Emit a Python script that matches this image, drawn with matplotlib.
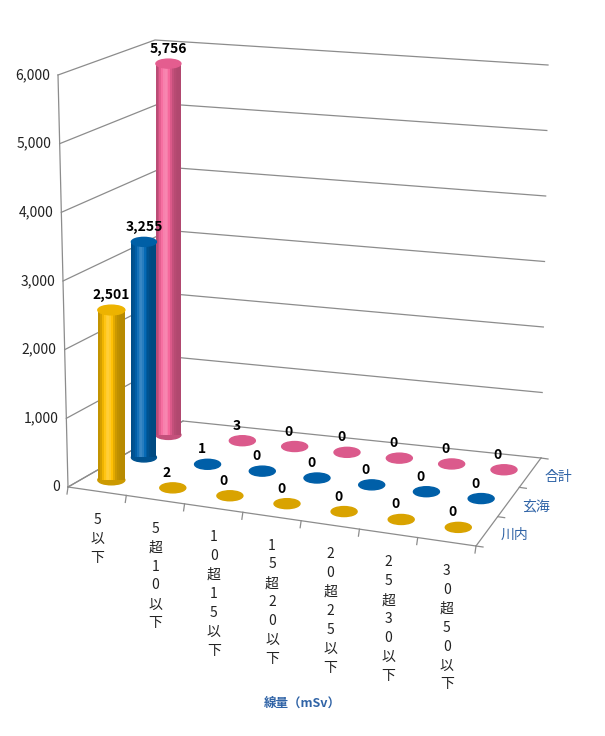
import numpy as np
import matplotlib
matplotlib.use("Agg")
import matplotlib.pyplot as plt
from matplotlib.patches import Ellipse, Polygon
import matplotlib.colors as mc

plt.rcParams['font.family'] = ['Noto Sans CJK JP', 'DejaVu Sans']

categories = ["5以下", "5超10以下", "10超15以下", "15超20以下", "20超25以下", "25超30以下", "30超50以下"]
series_names = ["川内", "玄海", "合計"]
sendai = [2501, 2, 0, 0, 0, 0, 0]
genkai = [3255, 1, 0, 0, 0, 0, 0]
total = [5756, 3, 0, 0, 0, 0, 0]
yticks = [0, 1000, 2000, 3000, 4000, 5000, 6000]
xlabel = "線量（mSv）"

series_vals = [sendai, genkai, total]
colors = ["#FFC000", "#0066B3", "#F5649A"]
disk_colors = ["#D9A300", "#005FA8", "#DB5A8C"]
widths = [27, 25, 25]
YMAX = 6000.0

F0 = np.array([68, 487.]); F1 = np.array([476, 546.])
B0 = np.array([183, 421.]); B1 = np.array([541, 458.])
S = {"FL": 412, "FR": 424, "BL": 381, "BR": 393}
D = {"FL": -10, "FR": 25, "BL": -28, "BR": 7}

def bil(a, b, c, d, u, v):
    return (1-u)*(1-v)*a + u*(1-v)*b + (1-u)*v*c + u*v*d

def proj(u, v, h):
    p = bil(F0, F1, B0, B1, u, v)
    s = bil(S["FL"], S["FR"], S["BL"], S["BR"], u, v)
    dx = bil(D["FL"], D["FR"], D["BL"], D["BR"], u, v)
    f = h / YMAX
    return np.array([p[0] + dx*f, p[1] - s*f])

def shade(c, f):
    r = np.array(mc.to_rgb(c))
    if f >= 1:
        return tuple(r + (1-r)*min(f-1, 1))
    return tuple(r*f)

fig = plt.figure(figsize=(6.05, 7.36), dpi=100)
ax = fig.add_axes([0, 0, 1, 1])
ax.set_xlim(0, 605); ax.set_ylim(736, 0); ax.axis('off')

gc = "#8c8c8c"
for t in yticks:
    a = proj(0, 0, t); b = proj(0, 1, t); c = proj(1, 1, t)
    ax.plot([a[0], b[0], c[0]], [a[1], b[1], c[1]], color=gc, lw=0.9)
    ax.text(a[0]-8, a[1], f"{t:,}", ha='right', va='center', fontsize=10, color="#222")
a = proj(0, 0, 0); b = proj(0, 0, 6000)
ax.plot([a[0], b[0]], [a[1], b[1]], color=gc, lw=0.9)
for (u1, v1, u2, v2) in [(0, 0, 1, 0), (1, 0, 1, 1), (0, 1, 0, 0)]:
    p, q = proj(u1, v1, 0), proj(u2, v2, 0)
    ax.plot([p[0], q[0]], [p[1], q[1]], color=gc, lw=0.9)
nc = len(categories)
for i in range(nc+1):
    p = proj(i/nc, 0, 0)
    ax.plot([p[0], p[0]-1], [p[1], p[1]+7], color=gc, lw=0.9)
for j in range(4):
    p = proj(1, j/3, 0)
    ax.plot([p[0], p[0]+7], [p[1], p[1]+1], color=gc, lw=0.9)

for j, name in enumerate(series_names):
    p = proj(1, (j+0.5)/3, 0)
    ax.text(p[0]+14, p[1]+4, name, fontsize=10, color="#2F63A6", va='center', ha='left')

for i, cat in enumerate(categories):
    p = proj((i+0.5)/nc, 0, 0)
    ax.text(p[0], p[1]+22, "\n".join(list(cat)), ha='center', va='top', fontsize=10,
            linespacing=1.45, color="#222")
ax.text(302, 703, xlabel, ha='center', va='center', fontsize=9, color="#2F63A6", fontweight='bold')

N = 14
for j in [2, 1, 0]:
    vals = series_vals[j]; col = colors[j]; w = widths[j]
    for i in range(nc-1, -1, -1):
        val = vals[i]
        u = (i+0.5)/nc; v = (j+0.5)/3
        p0 = proj(u, v, 0)
        eh = w*0.36
        if val >= 100:
            pt = proj(u, v, val)
            x = pt[0]
            yb, yt = p0[1], pt[1]
            ax.add_patch(Ellipse((x, yb), w, eh, color=shade(col, 0.8), zorder=3))
            for k in range(N):
                t0, t1 = k/N, (k+1)/N
                tm = (t0+t1)/2
                f = 0.72 + 0.5*np.exp(-((tm-0.38)/0.22)**2)
                x0 = x - w/2 + w*t0
                x1 = x - w/2 + w*t1 + (0.6 if k < N-1 else 0)
                poly = [(x0, yb), (x1, yb), (x1, yt), (x0, yt)]
                ax.add_patch(Polygon(poly, facecolor=shade(col, f), lw=0,
                                     antialiased=False, zorder=3))
            ax.add_patch(Ellipse((x, yt), w, eh, color=shade(col, 0.93), zorder=4))
            ax.text(x, yt-eh/2-3, f"{val:,}", ha='center', va='bottom',
                    fontsize=10, fontweight='bold', zorder=5)
        else:
            ax.add_patch(Ellipse(p0, 26, 10, color=disk_colors[j], zorder=3))
            ax.text(p0[0]-6, p0[1]-8, f"{val:,}", ha='center', va='bottom',
                    fontsize=10, fontweight='bold', zorder=5)

fig.savefig("out.png", dpi=100)
